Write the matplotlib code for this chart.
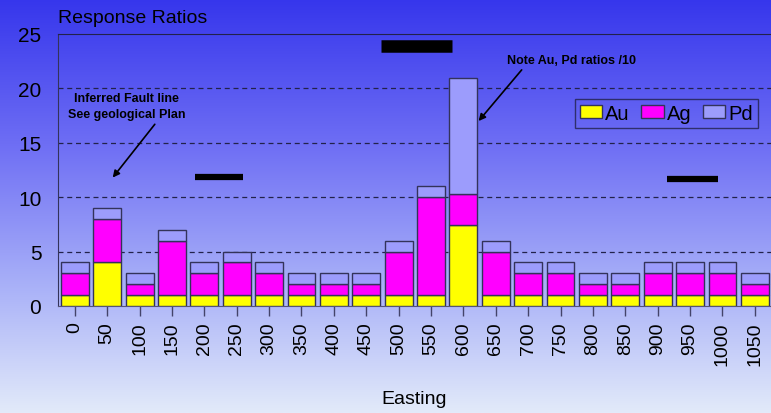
import numpy as np
import matplotlib
matplotlib.use('Agg')
import matplotlib.pyplot as plt
from matplotlib.colors import LinearSegmentedColormap

plt.rcParams['font.family'] = ['Liberation Sans', 'DejaVu Sans']

# Data
easting = ['0', '50', '100', '150', '200', '250', '300', '350', '400', '450', '500',
           '550', '600', '650', '700', '750', '800', '850', '900', '950', '1000', '1050']
au = [1, 4, 1, 1, 1, 1, 1, 1, 1, 1, 1, 1, 7.4, 1, 1, 1, 1, 1, 1, 1, 1, 1]
ag = [2, 4, 1, 5, 2, 3, 2, 1, 1, 1, 4, 9, 2.9, 4, 2, 2, 1, 1, 2, 2, 2, 1]
pd = [1, 1, 1, 1, 1, 1, 1, 1, 1, 1, 1, 1, 10.7, 1, 1, 1, 1, 1, 1, 1, 1, 1]

# black marker bars (x from, x to, y, thickness) in category / value units
markers = [(9.45, 11.65, 23.9, 9), (3.7, 5.2, 11.9, 4.5), (18.3, 19.85, 11.7, 4.5)]

fig = plt.figure(figsize=(7.71, 4.14), dpi=100)

# background gradient
bg = fig.add_axes([0, 0, 1, 1], zorder=-10)
cmap = LinearSegmentedColormap.from_list('bg', [
    (0.0, '#3636ec'), (0.35, '#6e6ef4'), (0.7, '#aab2f8'), (1.0, '#e2eafa')])
bg.imshow(np.linspace(0, 1, 256).reshape(-1, 1), aspect='auto', cmap=cmap,
          extent=[0, 1, 0, 1])
bg.axis('off')

ax = fig.add_axes([0.0752, 0.2585, 0.9248, 0.657])
ax.patch.set_alpha(0)

x = np.arange(len(easting))
au = np.array(au)
ag = np.array(ag)
pd = np.array(pd)
w = 0.86
ec = '#33335a'
ax.bar(x, au, w, color='#ffff00', edgecolor=ec, linewidth=1, label='Au', zorder=3)
ax.bar(x, ag, w, bottom=au, color='#ff00ff', edgecolor=ec, linewidth=1, label='Ag', zorder=3)
ax.bar(x, pd, w, bottom=au + ag, color='#9c9cfc', edgecolor=ec, linewidth=1, label='Pd', zorder=3)

for x0, x1, y, lw in markers:
    ax.plot([x0, x1], [y, y], color='black', linewidth=lw, solid_capstyle='butt', zorder=4)

ax.set_xlim(-0.52, 21.5)
ax.set_ylim(0, 25)
ax.set_yticks([0, 5, 10, 15, 20, 25])
ax.set_xticks(x)
ax.set_xticklabels(easting, rotation=90)
ax.tick_params(axis='y', length=0, pad=12, labelsize=15)
ax.tick_params(axis='x', length=7, width=1, color='#44446a', labelsize=14, pad=4)
for v in [5, 10, 15, 20]:
    ax.axhline(v, color='#22224a', linestyle=(0, (4, 3)), linewidth=0.9, zorder=1)

ax.spines['right'].set_visible(False)
ax.spines['top'].set_color('#22224a')
ax.spines['left'].set_color('#33335a')
ax.spines['bottom'].set_color('#555577')

ax.set_xlabel('Easting', fontsize=14, labelpad=18)
fig.text(0.0752, 0.956, 'Response Ratios', fontsize=14, ha='left', va='center')

# annotations
ax.text(1.59, 18.35, 'Inferred Fault line\nSee geological Plan', fontsize=9,
        fontweight='bold', ha='center', va='center', multialignment='center',
        linespacing=1.45)
ax.annotate('', xy=(1.17, 11.8), xytext=(2.47, 16.7),
            arrowprops=dict(arrowstyle='-|>', color='black', lw=1.2,
                            shrinkA=0, shrinkB=0, mutation_scale=10))
ax.text(15.35, 22.6, 'Note Au, Pd ratios /10', fontsize=9, fontweight='bold',
        ha='center', va='center')
ax.annotate('', xy=(12.47, 17.0), xytext=(13.8, 21.7),
            arrowprops=dict(arrowstyle='-|>', color='black', lw=1.2,
                            shrinkA=0, shrinkB=0, mutation_scale=10))

leg = ax.legend(loc='upper right', bbox_to_anchor=(0.982, 0.762), ncol=3, fontsize=14.5,
                frameon=True, fancybox=False, handlelength=1.1, handleheight=0.65,
                handletextpad=0.15, columnspacing=0.6, borderpad=0.25,
                borderaxespad=0)
leg.get_frame().set_facecolor('none')
leg.get_frame().set_edgecolor('#22224a')
leg.get_frame().set_linewidth(1)

fig.savefig('out.png', dpi=100)
